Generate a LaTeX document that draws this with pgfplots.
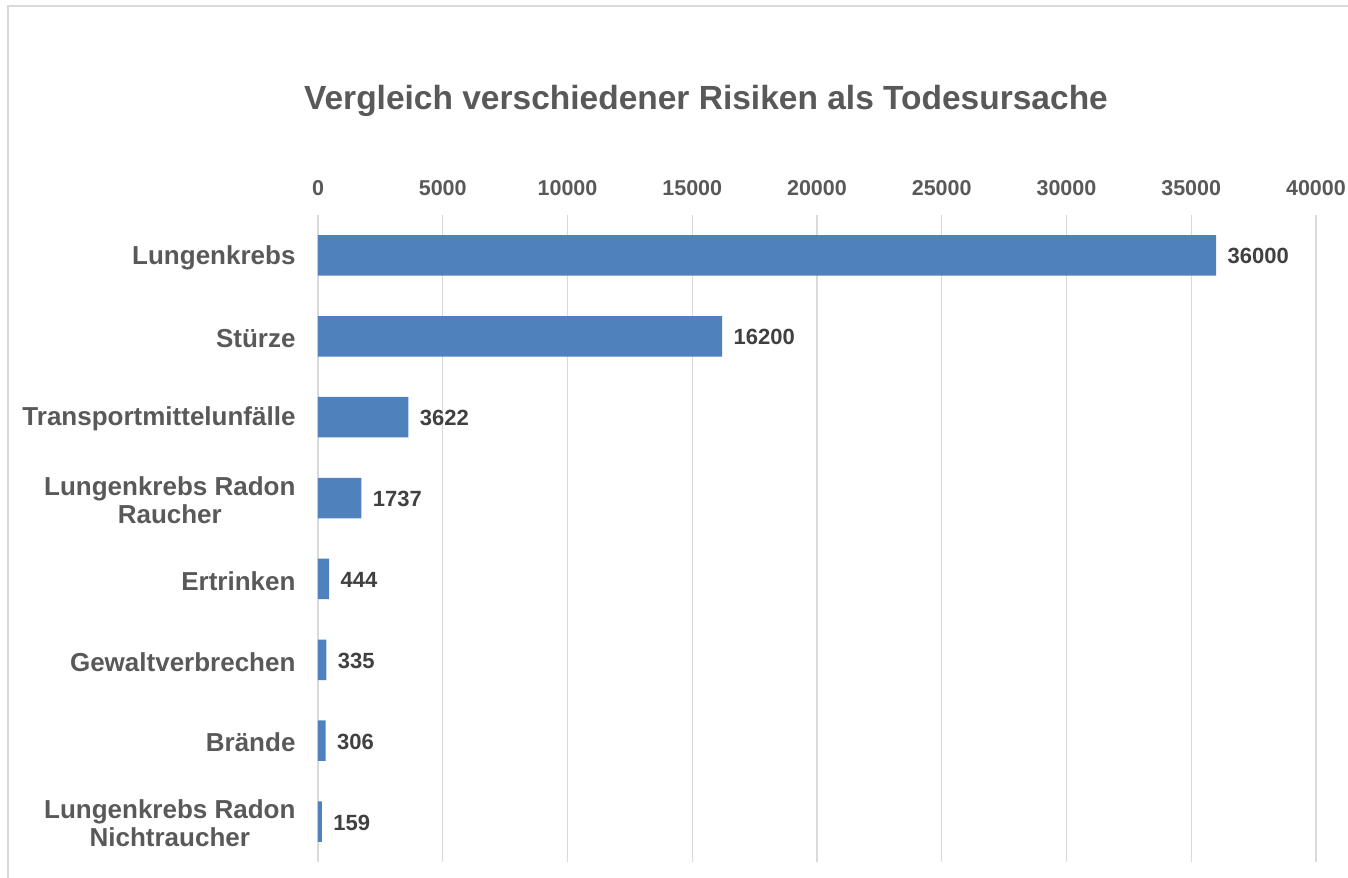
\documentclass[border=0pt]{standalone}
\usepackage{pgfplots}
\pgfplotsset{compat=1.18}
\usepackage{fontspec}
\setmainfont{Liberation Sans}
\definecolor{barblue}{HTML}{4F81BD}
\definecolor{txtgray}{HTML}{595959}
\definecolor{valgray}{HTML}{404040}
\definecolor{gridgray}{HTML}{D9D9D9}
\begin{document}
\begin{tikzpicture}
\path[use as bounding box] (-318bp,-16bp) rectangle (1030bp,862bp);
\draw[gridgray, line width=1.5bp] (-310bp,-16bp) -- (-310bp,856bp) -- (1030bp,856bp);
\node[text=txtgray, font=\fontsize{33.5bp}{38bp}\selectfont\bfseries] at (388bp,761bp) {Vergleich verschiedener Risiken als Todesursache};
\begin{axis}[
 at={(0,0)}, anchor=south west,
 scale only axis, width=998bp, height=647bp,
 xbar, bar width=0.5,
 xmin=0, xmax=40000, ymin=-0.5, ymax=7.5, y dir=reverse,
 xtick={0,5000,...,40000},
 ytick={0,...,7},
 yticklabels={Lungenkrebs, Stürze, Transportmittelunfälle, {Lungenkrebs Radon\\Raucher}, Ertrinken, Gewaltverbrechen, Brände, {Lungenkrebs Radon\\Nichtraucher}},
 xticklabel pos=upper,
 axis line style={draw=none},
 major tick length=0pt,
 xmajorgrids, grid style={gridgray, line width=1.2bp},
 scaled x ticks=false,
 /pgf/number format/1000 sep={},
 xticklabel style={font=\fontsize{21.5bp}{25bp}\selectfont\bfseries, text=txtgray, /pgf/number format/assume math mode=true, yshift=16bp},
 yticklabel style={font=\fontsize{26bp}{28bp}\selectfont\bfseries, text=txtgray, align=center, xshift=-19bp, yshift=-2bp},
 nodes near coords,
 nodes near coords style={font=\fontsize{22bp}{26bp}\selectfont\bfseries, text=valgray, anchor=west, xshift=8bp, yshift=-1bp, /pgf/number format/assume math mode=true, /pgf/number format/1000 sep={}},
]
\addplot[fill=barblue, draw=none] coordinates {
 (36000,0) (16200,1) (3622,2) (1737,3) (444,4) (335,5) (306,6) (159,7)
};
\end{axis}
\end{tikzpicture}
\end{document}
